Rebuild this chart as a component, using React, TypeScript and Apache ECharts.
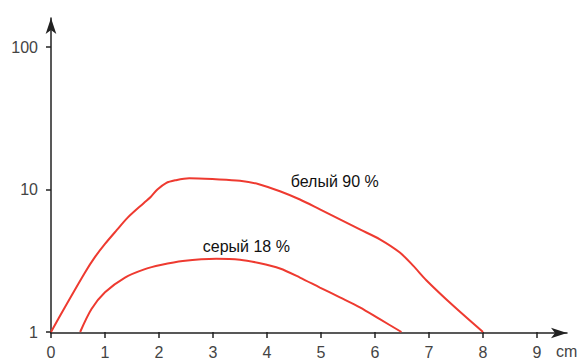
import React, { useEffect, useRef } from "react";
import * as echarts from "echarts";

const xTicks = [0, 1, 2, 3, 4, 5, 6, 7, 8, 9];
const yTicks = [1, 10, 100];

const whiteName = "белый 90 %";
const whiteX = [0, 0.26, 0.63, 0.8, 1.0, 1.22, 1.42, 1.72, 1.85, 1.97, 2.13, 2.3, 2.56, 3.05, 3.5, 3.85, 4.24, 4.61, 4.98, 5.35, 5.72, 6.09, 6.46, 6.71, 6.95, 7.44, 8.0];
const whiteY = [1, 1.5, 2.62, 3.3, 4.15, 5.2, 6.35, 8.05, 8.9, 10, 11.1, 11.6, 12.0, 11.8, 11.5, 10.9, 9.73, 8.51, 7.25, 6.17, 5.25, 4.47, 3.61, 2.91, 2.31, 1.54, 1];

const greyName = "серый 18 %";
const greyX = [0.54, 0.75, 1.0, 1.37, 1.74, 2.03, 2.44, 3.06, 3.5, 3.85, 4.24, 4.61, 4.98, 5.35, 5.72, 6.09, 6.49];
const greyY = [1, 1.45, 1.9, 2.41, 2.76, 2.95, 3.15, 3.27, 3.22, 3.05, 2.79, 2.41, 2.05, 1.75, 1.49, 1.23, 1];

const labelPos = {
  white: [4.44, 11.4],
  grey: [2.81, 3.99],
};

const RED = "#ee3a30";
const AXIS = "#222";
const FONT = "Liberation Sans, Arial, sans-serif";

export default function App() {
  const ref = useRef<HTMLDivElement>(null);
  useEffect(() => {
    if (!ref.current) return;
    const chart = echarts.init(ref.current, null, { renderer: "svg" });
    const lbl = (name: string, coord: number[]) => ({
      coord,
      symbol: "circle",
      symbolSize: 0,
      label: {
        show: true,
        position: "right",
        distance: 0,
        formatter: name,
        color: "#111",
        fontSize: 16,
        fontFamily: FONT,
      },
    });
    chart.setOption({
      animation: false,
      grid: [
        { left: 51, right: 13, top: 18, bottom: 27 },
        { left: 51, right: 43, top: 47, bottom: 27 },
      ],
      xAxis: [
        {
          gridIndex: 0,
          type: "value",
          min: 0,
          max: 1,
          axisLine: { show: true, symbol: ["none", "arrow"], symbolSize: [8, 16], lineStyle: { color: AXIS, width: 1.5 } },
          axisTick: { show: false },
          axisLabel: { show: false },
          splitLine: { show: false },
        },
        {
          gridIndex: 1,
          type: "value",
          min: 0,
          max: 9,
          interval: 1,
          axisLine: { show: false },
          axisTick: { show: true, length: 6, lineStyle: { color: AXIS, width: 1.5 } },
          axisLabel: {
            margin: 12,
            color: "#444",
            fontSize: 16,
            fontFamily: FONT,
            formatter: (v: number) => (xTicks.includes(v) ? String(v) : ""),
          },
          splitLine: { show: false },
        },
      ],
      yAxis: [
        {
          gridIndex: 0,
          type: "value",
          min: 0,
          max: 1,
          axisLine: { show: true, symbol: ["none", "arrow"], symbolSize: [8, 16], lineStyle: { color: AXIS, width: 1.5 } },
          axisTick: { show: false },
          axisLabel: { show: false },
          splitLine: { show: false },
        },
        {
          gridIndex: 1,
          type: "log",
          logBase: 10,
          min: 1,
          max: 100,
          axisLine: { show: false },
          axisTick: { show: true, length: 5, lineStyle: { color: AXIS, width: 1.5 } },
          minorTick: { show: false },
          axisLabel: {
            margin: 13,
            color: "#444",
            fontSize: 16,
            fontFamily: FONT,
            formatter: (v: number) => (yTicks.includes(Math.round(v)) ? String(Math.round(v)) : ""),
          },
          splitLine: { show: false },
        },
      ],
      series: [
        {
          type: "line",
          name: whiteName,
          xAxisIndex: 1,
          yAxisIndex: 1,
          data: whiteX.map((x, i) => [x, whiteY[i]]),
          smooth: 0.3,
          showSymbol: false,
          lineStyle: { color: RED, width: 2 },
          markPoint: { silent: true, data: [lbl(whiteName, labelPos.white)] },
        },
        {
          type: "line",
          name: greyName,
          xAxisIndex: 1,
          yAxisIndex: 1,
          data: greyX.map((x, i) => [x, greyY[i]]),
          smooth: 0.3,
          showSymbol: false,
          lineStyle: { color: RED, width: 2 },
          markPoint: { silent: true, data: [lbl(greyName, labelPos.grey)] },
        },
      ],
      graphic: [
        {
          type: "text",
          left: 556,
          top: 343,
          style: { text: "cm", fill: "#444", fontSize: 16, fontFamily: FONT },
        },
      ],
    });
    return () => chart.dispose();
  }, []);
  return <div ref={ref} style={{ position: "absolute", left: 0, top: 0, width: 580, height: 360 }} />;
}
